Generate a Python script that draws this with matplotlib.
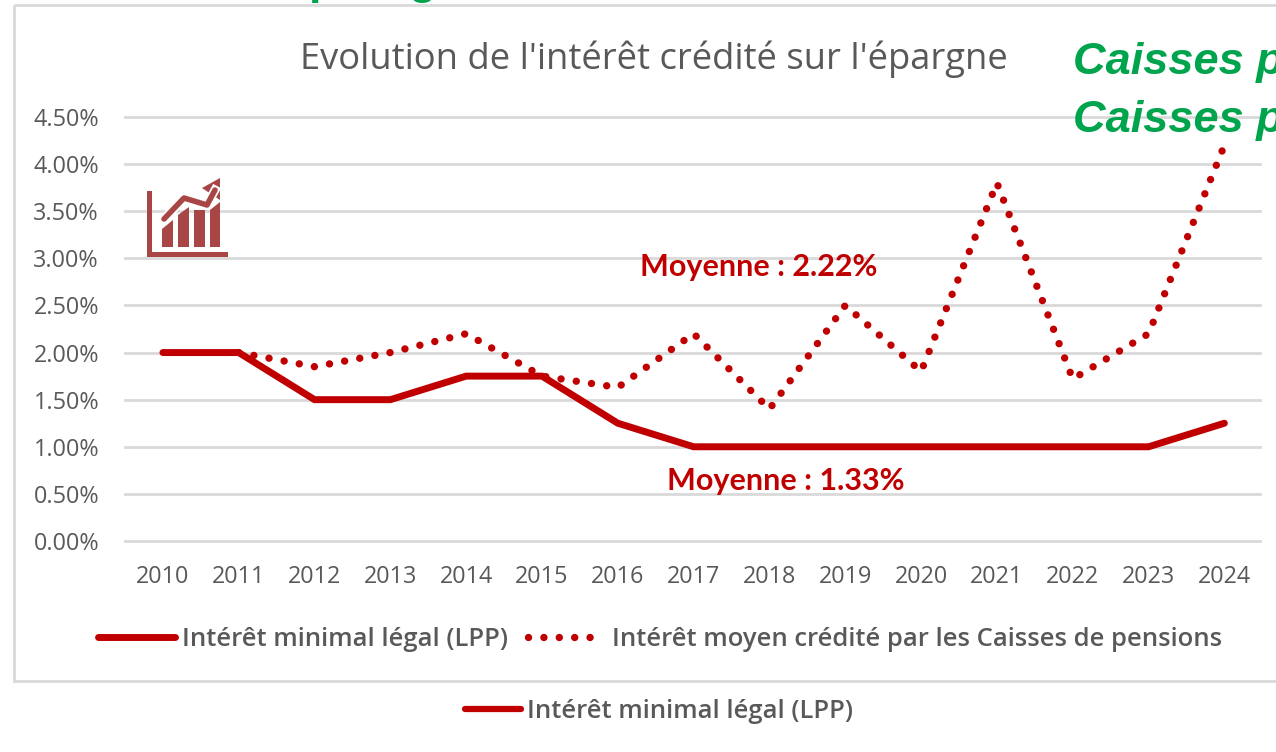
import matplotlib
matplotlib.use("Agg")
import matplotlib.pyplot as plt
from matplotlib.lines import Line2D
from matplotlib.patches import Polygon, Rectangle

years = ["2010", "2011", "2012", "2013", "2014", "2015", "2016", "2017",
         "2018", "2019", "2020", "2021", "2022", "2023", "2024"]
# minimum legal rate, %
lpp = [2.0, 2.0, 1.5, 1.5, 1.75, 1.75, 1.25, 1.0, 1.0, 1.0, 1.0, 1.0, 1.0, 1.0, 1.25]
# average credited rate, %, starts in 2011
credited = [2.0, 1.85, 2.0, 2.2, 1.75, 1.63, 2.2, 1.4, 2.5, 1.8, 3.8, 1.72, 2.2, 4.2]
yticks = [0, 0.5, 1, 1.5, 2, 2.5, 3, 3.5, 4, 4.5]

W, H = 1276, 752
RED = "#C00000"
GREY = "#595959"
GRID = "#D9D9D9"
GREEN = "#00A44D"
ICON = "#A84545"
DOTS = (0, (0.01, 2.08))

plt.rcParams['font.family'] = ['Open Sans', 'DejaVu Sans']

fig = plt.figure(figsize=(W / 100, H / 100), dpi=100, facecolor="white")
ax = fig.add_axes([125 / W, 1 - 541 / H, 1135 / W, 424 / H])
ax.set_xlim(-0.5, 14.47)
ax.set_ylim(0, 4.5)
ax.set_yticks(yticks)
ax.set_yticklabels(["%.2f%%" % v for v in yticks], fontsize=16.8, color=GREY)
ax.set_xticks(range(len(years)))
ax.set_xticklabels(years, fontsize=16.8, color=GREY)
ax.tick_params(length=0)
ax.tick_params(axis="y", pad=18.7)
ax.tick_params(axis="x", pad=17.5)
ax.grid(axis="y", color=GRID, lw=2)
ax.set_axisbelow(True)
for g in ax.get_ygridlines():
    g.set_clip_on(False)
for s in ax.spines.values():
    s.set_visible(False)

ax.plot(range(1, 15), credited, color=RED, lw=5.3, ls=DOTS, dash_capstyle="round", clip_on=False)
ax.plot(range(15), lpp, color=RED, lw=5, solid_capstyle="round", solid_joinstyle="miter", clip_on=False)

note = dict(color=RED, fontsize=22, fontweight="bold", family="Lato", ha="center", va="center")
ax.text(7.86, 2.91, "Moyenne : 2.22%", **note)
ax.text(8.22, 0.64, "Moyenne : 1.33%", **note)

# overlay in picture pixels for the frame, icon and pasted-on texts
ov = fig.add_axes([0, 0, 1, 1], facecolor="none")
ov.set_xlim(0, W)
ov.set_ylim(H, 0)
ov.axis("off")

ov.add_patch(Rectangle((14, 5), W + 20, 676, fill=False, ec=GRID, lw=2))
ov.text(654, 69, "Evolution de l'intérêt crédité sur l'épargne", color=GREY, fontsize=26.2,
        ha="center", va="baseline")

# icon
ov.add_patch(Rectangle((147, 191), 5, 66, color=ICON, lw=0))
ov.add_patch(Rectangle((147, 252), 81, 5, color=ICON, lw=0))
ov.add_patch(Polygon([(162, 229), (173, 220), (173, 247), (162, 247)], color=ICON, lw=0))
ov.add_patch(Polygon([(178, 215), (189, 207), (189, 247), (178, 247)], color=ICON, lw=0))
ov.add_patch(Rectangle((194, 210), 11, 37, color=ICON, lw=0))
ov.add_patch(Polygon([(210, 210), (220, 202), (220, 247), (210, 247)], color=ICON, lw=0))
ov.add_line(Line2D([164, 184, 207, 215], [219, 198, 205, 190], color="white", lw=6.5))
ov.add_line(Line2D([164, 184, 207, 215], [219, 198, 205, 190], color=ICON, lw=4,
                   solid_capstyle="round"))
ov.add_patch(Polygon([(202, 188), (220, 178), (220, 200)], color=ICON, lw=0))

# green texts running off the picture
green = dict(color=GREEN, fontsize=32.5, fontweight="bold", family="Liberation Sans", va="baseline")
ov.text(1073, 74, "Caisses p", style="italic", **green)
ov.text(1073, 132, "Caisses p", style="italic", **green)
ov.text(308, -6, "p", **green)
ov.text(408, -6, "g", **green)

# legends
h1 = Line2D([], [], color=RED, lw=5, solid_capstyle="round")
h2 = Line2D([], [], color=RED, lw=5.3, ls=DOTS, dash_capstyle="round")
leg_font = dict(family="Open Sans", weight="semibold", size=18.45)
leg = fig.legend([h1, h2], ["Intérêt minimal légal (LPP)", "Intérêt moyen crédité par les Caisses de pensions"],
                 loc="center", bbox_to_anchor=(660 / W, 1 - 639 / H), ncol=2, frameon=False, prop=leg_font,
                 labelcolor=GREY, handlelength=3.0, handletextpad=0.3, columnspacing=0.75)
leg2 = fig.legend([Line2D([], [], color=RED, lw=4.5, solid_capstyle="round")], ["Intérêt minimal légal (LPP)"],
                  loc="center", bbox_to_anchor=(659 / W, 1 - 711 / H), frameon=False, prop=leg_font,
                  labelcolor=GREY, handlelength=2.2, handletextpad=0.25)

fig.savefig("out.png", dpi=100)
